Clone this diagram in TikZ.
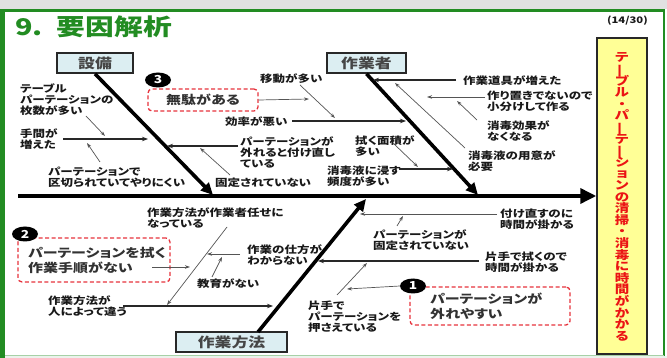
\documentclass[tikz,border=0pt]{standalone}
\usepackage{graphicx}
\usepackage{fontspec}
\setmainfont{Noto Sans CJK JP}[FakeStretch=1.25, RawFeature=+palt]
\usetikzlibrary{arrows.meta,shapes.geometric}
\definecolor{fgreen}{RGB}{34,140,34}
\definecolor{catfill}{RGB}{220,238,242}
\definecolor{catline}{RGB}{40,40,40}
\definecolor{cattext}{RGB}{70,70,70}
\definecolor{dred}{RGB}{230,50,60}
\definecolor{ybox}{RGB}{255,255,150}
\definecolor{rtext}{RGB}{235,20,20}
\definecolor{txt}{RGB}{25,25,25}
\definecolor{txtg}{RGB}{50,50,50}
\definecolor{linec}{RGB}{40,40,40}
\definecolor{thinc}{RGB}{85,85,85}
\definecolor{topgray}{RGB}{225,225,225}
\definecolor{botc}{RGB}{236,242,236}
\newcommand\vch{\raisebox{0pt}[0pt][0pt]{\rotatebox[origin=c]{90}{ー}}}
\begin{document}
\begin{tikzpicture}[x=1pt,y=-1pt,
  lbl/.style={inner sep=0pt, anchor=north west, align=left, font=\fontsize{10}{11}\selectfont\bfseries, text=txt},
  bigtxt/.style={inner sep=0pt, font=\fontsize{12}{15}\selectfont\bfseries, text=txtg},
  catbox/.style={draw=catline, line width=1.6pt, fill=catfill, minimum height=20pt, inner sep=0pt, font=\fontsize{13.5}{14}\selectfont\bfseries, text=cattext},
  dbox/.style={draw=dred, dash pattern=on 4pt off 2.5pt, line width=1.3pt, rounded corners=4pt},
  badge/.style={ellipse, fill=black, minimum width=26pt, minimum height=15pt, inner sep=0pt, text=white, font=\fontsize{11}{11}\selectfont\bfseries},
  bone/.style={line width=3.6pt, draw=black, -{Triangle[length=12pt,width=11pt]}},
  subarrow/.style={line width=1.2pt, draw=linec, -{Stealth[length=6pt,width=4.5pt]}},
  thinarrow/.style={line width=0.7pt, draw=thinc, -{Stealth[length=5pt,width=3.5pt]}},
]
\useasboundingbox (0,0) rectangle (667,358);
% frame
\fill[topgray] (0,0) rectangle (667,9);
\fill[botc] (0,355.5) rectangle (667,358);
\draw[fgreen, line width=2.5pt] (0,10.5) -- (665,10.5);
\fill[fgreen] (0,9.5) rectangle (5,358);
\draw[fgreen, line width=1.5pt] (664,9.5) -- (664,356);
\draw[fgreen!40, line width=1pt] (5,355.5) -- (664,355.5);

% title
\node[anchor=west, inner sep=0pt, text=fgreen, font=\fontsize{23}{23}\selectfont\bfseries] (title) at (15,27) {9.\hspace{14pt}要因解析};
\node[anchor=east, inner sep=0pt, text=txt, font=\fontsize{9}{9}\selectfont\bfseries] (page) at (648,21) {(14/30)};

% right effect box
\node[draw=catline, line width=1.5pt, fill=ybox, minimum width=50pt, minimum height=316pt, inner sep=0pt] (rbox) at (622,196) {};
\node[inner sep=0pt, align=center, text=rtext, font=\fontsize{11.6}{11.6}\selectfont\bfseries] (rtxt) at (622,197)
  {テ\\ \vch\\ ブ\\ ル\\ ・\\ パ\\ \vch\\ テ\\ \vch\\ シ\\ ョ\\ ン\\ の\\ 清\\ 掃\\ ・\\ 消\\ 毒\\ に\\ 時\\ 間\\ が\\ か\\ か\\ る};

% category boxes
\node[catbox, minimum width=76pt] (cat1) at (95,63) {設備};
\node[catbox, minimum width=79pt] (cat2) at (366.5,63) {作業者};
\node[catbox, minimum width=111pt] (cat3) at (231.5,342) {作業方法};

% spine and bones
\coordinate (sp0) at (18,196);
\coordinate (j1) at (213,195);
\coordinate (j2) at (478,195);
\coordinate (j3) at (366,199);
\coordinate (c3a) at (258,332);
\draw[line width=3.6pt, -{Triangle[length=16pt,width=15pt]}] (sp0) -- (rbox.west);
\draw[bone] (cat1.south) -- (j1);
\draw[bone] (cat2.south) -- (j2);
\draw[bone] (c3a) -- (j3);

% labels
\node[lbl] (tA) at (20,83.5) {テーブル\\パーテーションの\\枚数が多い};
\node[lbl] (tB) at (20,128.5) {手間が\\増えた};
\node[lbl] (tC) at (48,166.5) {パーテーションで\\区切られていてやりにくい};
\node[lbl] (tD) at (240,136.5) {パーテーションが\\外れると付け直し\\ている};
\node[lbl] (tE) at (215,177.5) {固定されていない};
\node[lbl] (tF) at (260,73.5) {移動が多い};
\node[lbl] (tG) at (225,116.5) {効率が悪い};
\node[lbl] (tH) at (463,75.5) {作業道具が増えた};
\node[lbl] (tI) at (487,90.5) {作り置きでないので\\小分けして作る};
\node[lbl] (tJ) at (487,120.5) {消毒効果が\\なくなる};
\node[lbl] (tK) at (468,150.5) {消毒液の用意が\\必要};
\node[lbl] (tL) at (355,135.5) {拭く面積が\\多い};
\node[lbl] (tM) at (327,165.5) {消毒液に浸す\\頻度が多い};
\node[lbl] (tN) at (147,207.5) {作業方法が作業者任せに\\なっている};
\node[lbl] (tO) at (247,244.5) {作業の仕方が\\わからない};
\node[lbl] (tP) at (197,278.5) {教育がない};
\node[lbl] (tQ) at (48,295.5) {作業方法が\\人によって違う};
\node[lbl] (tR) at (500,208.5) {付け直すのに\\時間が掛かる};
\node[lbl] (tS) at (373,229.5) {パーテーションが\\固定されていない};
\node[lbl] (tT) at (485,251.5) {片手で拭くので\\時間が掛かる};
\node[lbl] (tU) at (308,300.5) {片手で\\パーテーションを\\押さえている};

% dashed problem boxes
\node[dbox, minimum width=110pt, minimum height=22pt, inner sep=0pt] (b3) at (203,100) {};
\node[bigtxt] (t3) at (203,100) {無駄がある};
\node[dbox, minimum width=152pt, minimum height=44pt, inner sep=0pt] (b2) at (94,260) {};
\node[bigtxt, anchor=north west, align=left] (t2) at (28,247.5) {パーテーションを拭く\\作業手順がない};
\node[dbox, minimum width=160pt, minimum height=38pt, inner sep=0pt] (b1) at (490,306) {};
\node[bigtxt, anchor=north west, align=left] (t1) at (430,292.5) {パーテーションが\\外れやすい};
\node[badge] (n3) at (158,80) {3};
\node[badge] (n2) at (25,234) {2};
\node[badge] (n1) at (413,286) {1};

% sub-cause connectors
\coordinate (s1a) at (63,139);  \coordinate (s1b) at (148,139);
\coordinate (s2a) at (86,116);  \coordinate (s2b) at (105,136);
\coordinate (s3a) at (100,162); \coordinate (s3b) at (87,143);
\coordinate (s4a) at (238,146); \coordinate (s4b) at (167,146);
\coordinate (s5a) at (230,175); \coordinate (s5b) at (200,148);
\coordinate (s6b) at (309,99);
\coordinate (s7a) at (300,85);  \coordinate (s7b) at (335,118);
\coordinate (s8a) at (292,121); \coordinate (s8b) at (406,121);
\coordinate (s9a) at (456,80);  \coordinate (s9b) at (373,80);
\coordinate (s10a) at (485,97); \coordinate (s10b) at (427,97);
\coordinate (s11a) at (477,120); \coordinate (s11b) at (457,101);
\coordinate (s12a) at (465,148); \coordinate (s12b) at (395,83);
\coordinate (s13a) at (393,143); \coordinate (s13b) at (418,167);
\coordinate (s14a) at (399,169); \coordinate (s14b) at (453,169);
\coordinate (s15a) at (227,227); \coordinate (s15b) at (167,305);
\coordinate (s16a) at (240,254); \coordinate (s16b) at (207,254);
\coordinate (s17a) at (212,277); \coordinate (s17b) at (222,257);
\coordinate (s18a) at (152,267); \coordinate (s18b) at (190,267);
\coordinate (s19a) at (123,306); \coordinate (s19b) at (273,306);
\coordinate (s20a) at (497,214); \coordinate (s20b) at (360,214);
\coordinate (s21a) at (397,226); \coordinate (s21b) at (403,216);
\coordinate (s22a) at (479,261); \coordinate (s22b) at (318,261);
\coordinate (s23a) at (337,295); \coordinate (s23b) at (367,263);
\coordinate (s24b) at (347,289);

\draw[subarrow] (s1a) -- (s1b);
\draw[thinarrow] (s2a) -- (s2b);
\draw[thinarrow] (s3a) -- (s3b);
\draw[subarrow] (s4a) -- (s4b);
\draw[thinarrow] (s5a) -- (s5b);
\draw[thinarrow] (b3.east) -- (s6b);
\draw[thinarrow] (s7a) -- (s7b);
\draw[subarrow] (s8a) -- (s8b);
\draw[subarrow] (s9a) -- (s9b);
\draw[thinarrow] (s10a) -- (s10b);
\draw[thinarrow] (s11a) -- (s11b);
\draw[thinarrow] (s12a) -- (s12b);
\draw[thinarrow] (s13a) -- (s13b);
\draw[subarrow] (s14a) -- (s14b);
\draw[thinarrow] (s15a) -- (s15b);
\draw[thinarrow] (s16a) -- (s16b);
\draw[thinarrow] (s17a) -- (s17b);
\draw[thinarrow] (s18a) -- (s18b);
\draw[subarrow] (s19a) -- (s19b);
\draw[thinarrow] (s20a) -- (s20b);
\draw[thinarrow] (s21a) -- (s21b);
\draw[subarrow] (s22a) -- (s22b);
\draw[thinarrow] (s23a) -- (s23b);
\draw[thinarrow] (n1.west) -- (s24b);
\end{tikzpicture}
\end{document}
